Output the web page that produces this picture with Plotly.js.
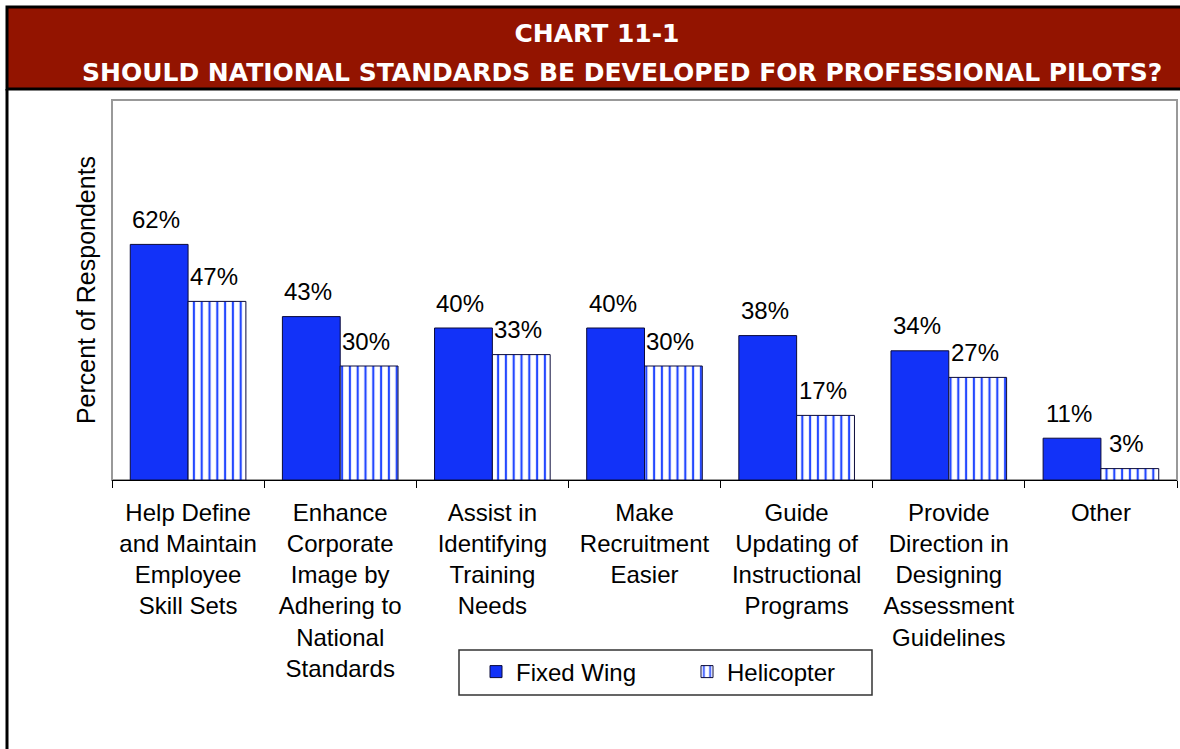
<!DOCTYPE html>
<html>
<head>
<meta charset="utf-8">
<script src="https://cdn.plot.ly/plotly-3.0.1.min.js"></script>
<style>
  html, body { margin: 0; padding: 0; background: #ffffff; }
  #chart { width: 1180px; height: 749px; }
</style>
</head>
<body>
<div id="chart"></div>
<script>
// ---- data ----
const categories = [
  "Help Define<br>and Maintain<br>Employee<br>Skill Sets",
  "Enhance<br>Corporate<br>Image by<br>Adhering to<br>National<br>Standards",
  "Assist in<br>Identifying<br>Training<br>Needs",
  "Make<br>Recruitment<br>Easier",
  "Guide<br>Updating of<br>Instructional<br>Programs",
  "Provide<br>Direction in<br>Designing<br>Assessment<br>Guidelines",
  "Other"
];
const fixedWing = [62, 43, 40, 40, 38, 34, 11];
const helicopter = [47, 30, 33, 30, 17, 27, 3];
const seriesNames = ["Fixed Wing", "Helicopter"];
const titleLine1 = "CHART 11-1";
const titleLine2 = "SHOULD NATIONAL STANDARDS BE DEVELOPED FOR PROFESSIONAL PILOTS?";
const yTitle = "Percent of Respondents";

// ---- layout geometry (pixels) ----
const W = 1180, H = 749;
const mL = 112, mR = 3, mT = 100, mB = 269;
const pw = W - mL - mR, ph = H - mT - mB;
const px2x = p => (p - mL) / pw;
const py2y = p => (H - mB - p) / ph;

const FONT = "Liberation Sans, Arial, sans-serif";
const TFONT = "DejaVu Sans, Verdana, sans-serif";
const BLUE = "#1232F8";

const traces = [
  {
    type: "bar", name: seriesNames[0], x: categories, y: fixedWing,
    marker: { color: BLUE, line: { color: "#0a0a3a", width: 1 } },
    hoverinfo: "none"
  },
  {
    type: "bar", name: seriesNames[1], x: categories, y: helicopter,
    marker: {
      color: "#ffffff",
      line: { color: "#0a0a3a", width: 1 },
      pattern: { shape: "|", fgcolor: "#2448ff", bgcolor: "#ffffff", size: 7.8, solidity: 0.28 }
    },
    hoverinfo: "none"
  }
];

const annotations = [];
const barPx = pw / categories.length * 0.38;
[fixedWing, helicopter].forEach((vals, si) => {
  vals.forEach((v, i) => {
    annotations.push({
      x: categories[i], y: v, xref: "x", yref: "y",
      xshift: (si === 0 ? -1 : 1) * barPx / 2 - 3, yshift: 25,
      yanchor: "middle", text: v + "%", showarrow: false,
      font: { family: FONT, size: 24, color: "#000" }
    });
  });
});
annotations.push({
  xref: "paper", yref: "paper", x: px2x(622), y: py2y(73),
  xanchor: "center", yanchor: "middle", showarrow: false,
  text: titleLine2,
  font: { family: TFONT, size: 25, color: "#ffffff", weight: "bold" }
});

const shapes = [
  // banner
  { type: "rect", xref: "paper", yref: "paper", layer: "below",
    x0: px2x(7), x1: px2x(W + 5), y0: py2y(7), y1: py2y(89),
    fillcolor: "#931400", line: { color: "#000", width: 3 } },
  // left outer border
  { type: "line", xref: "paper", yref: "paper", layer: "below",
    x0: px2x(7), x1: px2x(7), y0: py2y(89), y1: py2y(H + 5),
    line: { color: "#000", width: 3 } },
  // plot frame
  { type: "rect", xref: "paper", yref: "paper", layer: "below",
    x0: 0, x1: 1, y0: 0, y1: 1, line: { color: "#999999", width: 2 } },
  // legend box
  { type: "rect", xref: "paper", yref: "paper", layer: "below",
    x0: px2x(459), x1: px2x(872), y0: py2y(650), y1: py2y(695),
    fillcolor: "#ffffff", line: { color: "#333333", width: 1.5 } }
];

const layout = {
  width: W, height: H,
  margin: { l: mL, r: mR, t: mT, b: mB },
  paper_bgcolor: "#ffffff", plot_bgcolor: "#ffffff",
  title: {
    text: titleLine1, x: 597 / W, xanchor: "center",
    yref: "container", y: 1 - 33 / H, yanchor: "middle",
    font: { family: TFONT, size: 25, color: "#ffffff", weight: "bold" }
  },
  barmode: "group", bargap: 0.24, bargroupgap: 0,
  showlegend: true,
  legend: {
    orientation: "h", xref: "paper", yref: "paper",
    x: px2x(476), y: py2y(672), xanchor: "left", yanchor: "middle",
    bgcolor: "rgba(0,0,0,0)", borderwidth: 0,
    font: { family: FONT, size: 24, color: "#000" },
    entrywidth: 166, entrywidthmode: "pixels",
    itemwidth: 30, traceorder: "normal"
  },
  xaxis: {
    type: "category", showgrid: false, zeroline: false,
    showline: true, linecolor: "#000", linewidth: 1,
    ticks: "outside", tickson: "boundaries", ticklen: 7, tickcolor: "#000",
    ticklabelstandoff: 11,
    tickfont: { family: FONT, size: 24, color: "#000" },
    fixedrange: true
  },
  yaxis: {
    range: [0, 100], showgrid: false, zeroline: false, showline: false,
    showticklabels: false, ticks: "",
    title: { text: yTitle, standoff: 8, font: { family: FONT, size: 25, color: "#000" } },
    fixedrange: true
  },
  annotations: annotations,
  shapes: shapes
};

Plotly.newPlot("chart", traces, layout, { displayModeBar: false, staticPlot: true });
</script>
</body>
</html>
